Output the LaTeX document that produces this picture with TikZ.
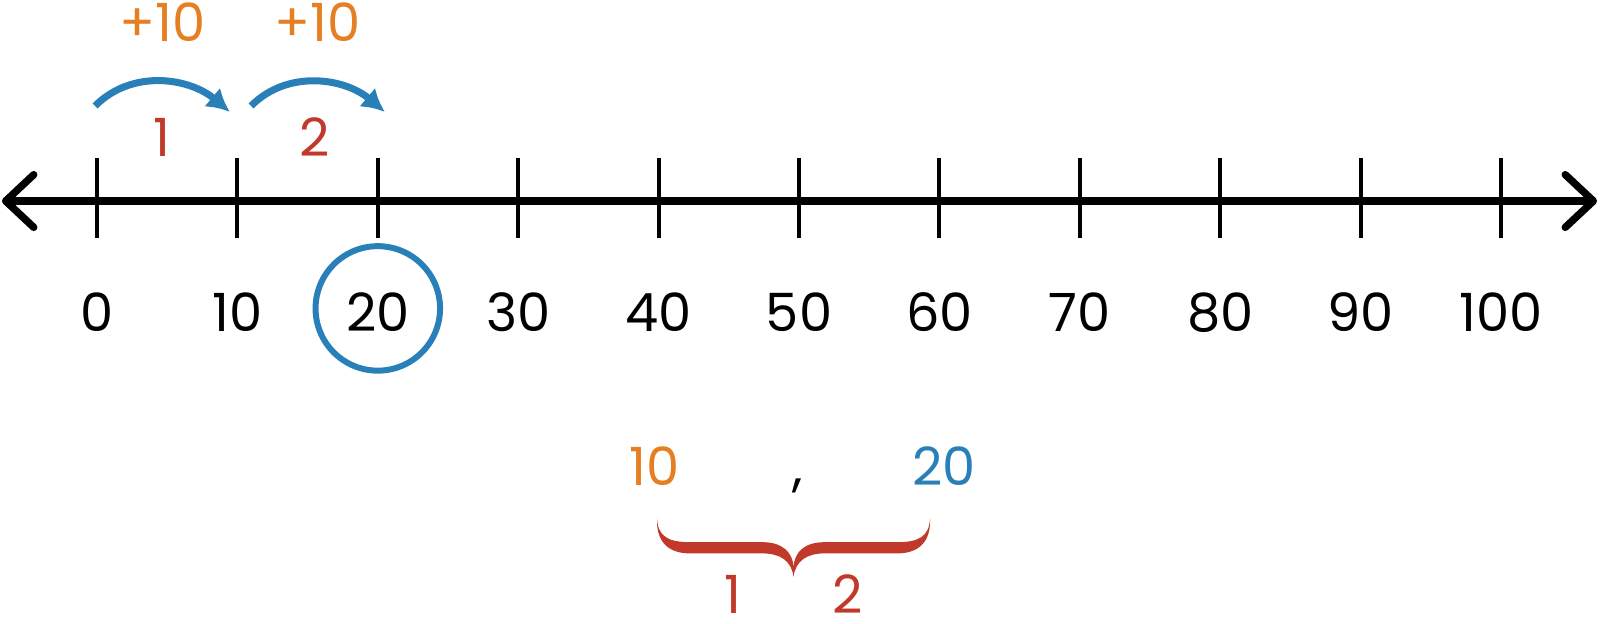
\documentclass[tikz,border=0pt]{standalone}
\usepackage{fontspec}
\setmainfont{Poppins}
\usetikzlibrary{arrows.meta}
\definecolor{jumpblue}{HTML}{2980B9}
\definecolor{steporange}{HTML}{E67E22}
\definecolor{countred}{HTML}{C0392B}

\begin{document}
\begin{tikzpicture}[x=2.808cm, y=2.808cm, font=\fontsize{30}{36}\selectfont,
  numlabel/.style={inner sep=0pt},
  ticks/.style={line width=2.3pt},
  jump/.style={jumpblue, line width=4pt, -{Latex[length=13pt,width=14pt]}},
  ring/.style={draw=jumpblue, line width=3.4pt, circle, minimum size=2.49cm, inner sep=0pt}]
\useasboundingbox (-0.6909,-3.0057) rectangle (10.7051,1.4316);

% number line
\coordinate (left) at (-0.677,0);
\coordinate (right) at (10.684,0);
\draw [line width=4.2pt, {Straight Barb[length=16pt,width=30pt,round]}-{Straight Barb[length=16pt,width=30pt,round]}] (left) -- (right);

\draw [ticks] (0,0.306) -- (0,-0.264);
\draw [ticks] (1,0.306) -- (1,-0.264);
\draw [ticks] (2,0.306) -- (2,-0.264);
\draw [ticks] (3,0.306) -- (3,-0.264);
\draw [ticks] (4,0.306) -- (4,-0.264);
\draw [ticks] (5,0.306) -- (5,-0.264);
\draw [ticks] (6,0.306) -- (6,-0.264);
\draw [ticks] (7,0.306) -- (7,-0.264);
\draw [ticks] (8,0.306) -- (8,-0.264);
\draw [ticks] (9,0.306) -- (9,-0.264);
\draw [ticks] (10,0.306) -- (10,-0.264);

\node [numlabel] (n0) at (0, -0.794) {0};
\node [numlabel] (n10) at (1, -0.794) {10};
\node [numlabel] (n20) at (2, -0.794) {20};
\node [numlabel] (n30) at (3, -0.794) {30};
\node [numlabel] (n40) at (4, -0.794) {40};
\node [numlabel] (n50) at (5, -0.794) {50};
\node [numlabel] (n60) at (6, -0.794) {60};
\node [numlabel] (n70) at (7, -0.794) {70};
\node [numlabel] (n80) at (8, -0.794) {80};
\node [numlabel] (n90) at (9, -0.794) {90};
\node [numlabel] (n100) at (10, -0.794) {100};

\node [ring] (ring20) at (2, -0.765) {};

% jumps
\node [numlabel, steporange] (plus1) at (0.467, 1.275) {+10};
\node [numlabel, steporange] (plus2) at (1.570, 1.275) {+10};
\node [numlabel, countred] (count1) at (0.463, 0.456) {1};
\node [numlabel, countred] (count2) at (1.553, 0.456) {2};

\coordinate (s1) at (-0.014, 0.677);
\coordinate (e1) at (0.947, 0.634);
\coordinate (s2) at (1.097, 0.677);
\coordinate (e2) at (2.051, 0.634);
\draw [jump] (s1) to[out=45, in=140] (e1);
\draw [jump] (s2) to[out=45, in=140] (e2);

% answer
\node [numlabel, anchor=base, steporange] (ans10) at (3.974, -2.023) {10};
\node [numlabel, anchor=base] (comma) at (4.993, -2.023) {,};
\node [numlabel, anchor=base, jumpblue] (ans20) at (6.033, -2.023) {20};

\fill [countred] (3.989,-2.262)
  .. controls (3.995,-2.39) and (4.07,-2.43) .. (4.224,-2.43)
  -- (4.74,-2.43)
  .. controls (4.88,-2.43) and (4.955,-2.50) .. (4.961,-2.607)
  .. controls (4.967,-2.50) and (5.04,-2.43) .. (5.18,-2.43)
  -- (5.698,-2.43)
  .. controls (5.852,-2.43) and (5.927,-2.39) .. (5.933,-2.262)
  .. controls (5.94,-2.42) and (5.86,-2.51) .. (5.698,-2.51)
  -- (5.18,-2.51)
  .. controls (5.06,-2.51) and (4.975,-2.56) .. (4.961,-2.678)
  .. controls (4.947,-2.56) and (4.862,-2.51) .. (4.74,-2.51)
  -- (4.224,-2.51)
  .. controls (4.062,-2.51) and (3.982,-2.42) .. (3.989,-2.262)
  -- cycle;

\node [numlabel, countred] (under1) at (4.530, -2.80) {1};
\node [numlabel, countred] (under2) at (5.349, -2.80) {2};
\end{tikzpicture}
\end{document}
